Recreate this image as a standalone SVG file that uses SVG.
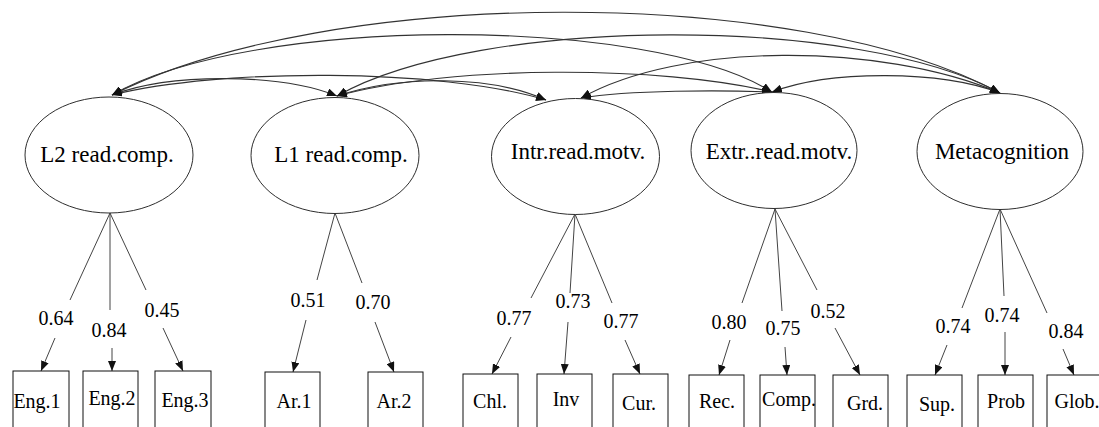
<svg xmlns="http://www.w3.org/2000/svg" width="1099" height="427" viewBox="0 0 1099 427" font-family="'Liberation Serif', 'Times New Roman', 'DejaVu Serif', serif">
  <defs>
    <style>
      .lat ellipse { fill: #ffffff; stroke: #2e2e2e; stroke-width: 1; }
      .obs rect { fill: #ffffff; stroke: #111111; stroke-width: 1; }
      text { font-family: 'Liberation Serif', 'Times New Roman', 'DejaVu Serif', serif; fill: #000000; text-anchor: middle; }
      .lat text { font-size: 23px; }
      .obs text { font-size: 20px; }
      .lbl { font-size: 20px; }
      .load { fill: none; stroke: #444444; stroke-width: 1; }
      .cov { fill: none; stroke: #333333; stroke-width: 1.1; }
    </style>
    <marker id="head" viewBox="0 0 10 8" refX="10" refY="4" markerWidth="10" markerHeight="8" markerUnits="userSpaceOnUse" orient="auto-start-reverse">
      <path d="M0,0 L10,4 L0,8 z" fill="#111111"/>
    </marker>
  </defs>
  <rect width="1099" height="427" fill="#ffffff"/>

  <!-- covariance arcs between the latent factors -->
  <g id="covariances">
    <path class="cov" d="M112,95 C330,-15 800,-15 1000,93" marker-start="url(#head)" marker-end="url(#head)"/>
    <path class="cov" d="M112,95 C250,15 650,15 772,92" marker-start="url(#head)" marker-end="url(#head)"/>
    <path class="cov" d="M337,96 C480,15 860,15 1000,93" marker-start="url(#head)" marker-end="url(#head)"/>
    <path class="cov" d="M112,95 C170,73 280,73 337,96" marker-start="url(#head)" marker-end="url(#head)"/>
    <path class="cov" d="M112,95 C220,68 440,68 546,100" marker-start="url(#head)" marker-end="url(#head)"/>
    <path class="cov" d="M337,96 C400,75 490,75 546,100" marker-start="url(#head)" marker-end="url(#head)"/>
    <path class="cov" d="M337,96 C450,65 660,65 772,92" marker-start="url(#head)" marker-end="url(#head)"/>
    <path class="cov" d="M581,98 C630,90 720,90 772,92" marker-start="url(#head)" marker-end="url(#head)"/>
    <path class="cov" d="M581,98 C680,42 880,42 1000,93" marker-start="url(#head)" marker-end="url(#head)"/>
    <path class="cov" d="M772,92 C830,70 940,70 1000,93" marker-start="url(#head)" marker-end="url(#head)"/>
  </g>

  <!-- factor loadings: line broken by its label, arrow into the indicator -->
  <g id="loadings">
    <path class="load" d="M110,213 L70,300"/><path class="load" d="M55,338 L41,371" marker-end="url(#head)"/>
    <path class="load" d="M110,213 L110,310"/><path class="load" d="M112,348 L112,371" marker-end="url(#head)"/>
    <path class="load" d="M110,213 L146,290"/><path class="load" d="M163,328 L183,371" marker-end="url(#head)"/>

    <path class="load" d="M335,213 L317,280"/><path class="load" d="M306,320 L293,372" marker-end="url(#head)"/>
    <path class="load" d="M335,213 L362,283"/><path class="load" d="M375,322 L394,372" marker-end="url(#head)"/>

    <path class="load" d="M575,214 L531,298"/><path class="load" d="M511,337 L492,374" marker-end="url(#head)"/>
    <path class="load" d="M575,214 L570,293"/><path class="load" d="M568,322 L564,374" marker-end="url(#head)"/>
    <path class="load" d="M575,214 L612,303"/><path class="load" d="M625,340 L640,374" marker-end="url(#head)"/>

    <path class="load" d="M775,209 L742,303"/><path class="load" d="M730,340 L719,375" marker-end="url(#head)"/>
    <path class="load" d="M775,209 L782,311"/><path class="load" d="M785,347 L787,375" marker-end="url(#head)"/>
    <path class="load" d="M775,209 L817,290"/><path class="load" d="M835,328 L860,375" marker-end="url(#head)"/>

    <path class="load" d="M1000,209 L962,308"/><path class="load" d="M947,345 L935,375" marker-end="url(#head)"/>
    <path class="load" d="M1000,209 L1004,296"/><path class="load" d="M1005,332 L1005,375" marker-end="url(#head)"/>
    <path class="load" d="M1000,209 L1047,313"/><path class="load" d="M1063,349 L1074,375" marker-end="url(#head)"/>

    <text class="lbl" x="56" y="325">0.64</text>
    <text class="lbl" x="109" y="337">0.84</text>
    <text class="lbl" x="162" y="317">0.45</text>
    <text class="lbl" x="308" y="307">0.51</text>
    <text class="lbl" x="373" y="309">0.70</text>
    <text class="lbl" x="514" y="325">0.77</text>
    <text class="lbl" x="573" y="308">0.73</text>
    <text class="lbl" x="621" y="328">0.77</text>
    <text class="lbl" x="729" y="329">0.80</text>
    <text class="lbl" x="783" y="335">0.75</text>
    <text class="lbl" x="828" y="318">0.52</text>
    <text class="lbl" x="953" y="333">0.74</text>
    <text class="lbl" x="1002" y="322">0.74</text>
    <text class="lbl" x="1066" y="338">0.84</text>
  </g>

  <!-- latent factors -->
  <g id="f-l2" class="lat"><ellipse cx="109" cy="155" rx="84" ry="58"/><text x="107" y="162">L2 read.comp.</text></g>
  <g id="f-l1" class="lat"><ellipse cx="335" cy="155.5" rx="84" ry="58"/><text x="341" y="162">L1 read.comp.</text></g>
  <g id="f-intr" class="lat"><ellipse cx="575.5" cy="156.5" rx="84" ry="58"/><text x="578" y="159">Intr.read.motv.</text></g>
  <g id="f-extr" class="lat"><ellipse cx="774" cy="150.5" rx="83" ry="58"/><text x="779" y="159">Extr..read.motv.</text></g>
  <g id="f-meta" class="lat"><ellipse cx="1000" cy="151.5" rx="83" ry="58"/><text x="1002" y="159">Metacognition</text></g>

  <!-- observed indicators -->
  <g id="o-eng1" class="obs"><rect x="13" y="371" width="56" height="70"/><text x="37" y="408">Eng.1</text></g>
  <g id="o-eng2" class="obs"><rect x="83" y="371" width="55" height="70"/><text x="112" y="405">Eng.2</text></g>
  <g id="o-eng3" class="obs"><rect x="155" y="371" width="56" height="70"/><text x="185" y="407">Eng.3</text></g>
  <g id="o-ar1" class="obs"><rect x="265" y="372" width="55" height="70"/><text x="294" y="408">Ar.1</text></g>
  <g id="o-ar2" class="obs"><rect x="368" y="372" width="55" height="70"/><text x="394" y="408">Ar.2</text></g>
  <g id="o-chl" class="obs"><rect x="463" y="374" width="55" height="70"/><text x="490" y="408">Chl.</text></g>
  <g id="o-inv" class="obs"><rect x="537" y="374" width="55" height="70"/><text x="566" y="406">Inv</text></g>
  <g id="o-cur" class="obs"><rect x="613" y="374" width="55" height="70"/><text x="639" y="410">Cur.</text></g>
  <g id="o-rec" class="obs"><rect x="689" y="375" width="55" height="70"/><text x="717" y="408">Rec.</text></g>
  <g id="o-comp" class="obs"><rect x="760" y="375" width="55" height="70"/><text x="789" y="406">Comp.</text></g>
  <g id="o-grd" class="obs"><rect x="833" y="375" width="55" height="70"/><text x="865" y="410">Grd.</text></g>
  <g id="o-sup" class="obs"><rect x="907" y="375" width="55" height="70"/><text x="937" y="411">Sup.</text></g>
  <g id="o-prob" class="obs"><rect x="978" y="375" width="55" height="70"/><text x="1006" y="408">Prob</text></g>
  <g id="o-glob" class="obs"><rect x="1047" y="375" width="55" height="70"/><text x="1077" y="408">Glob.</text></g>
</svg>
